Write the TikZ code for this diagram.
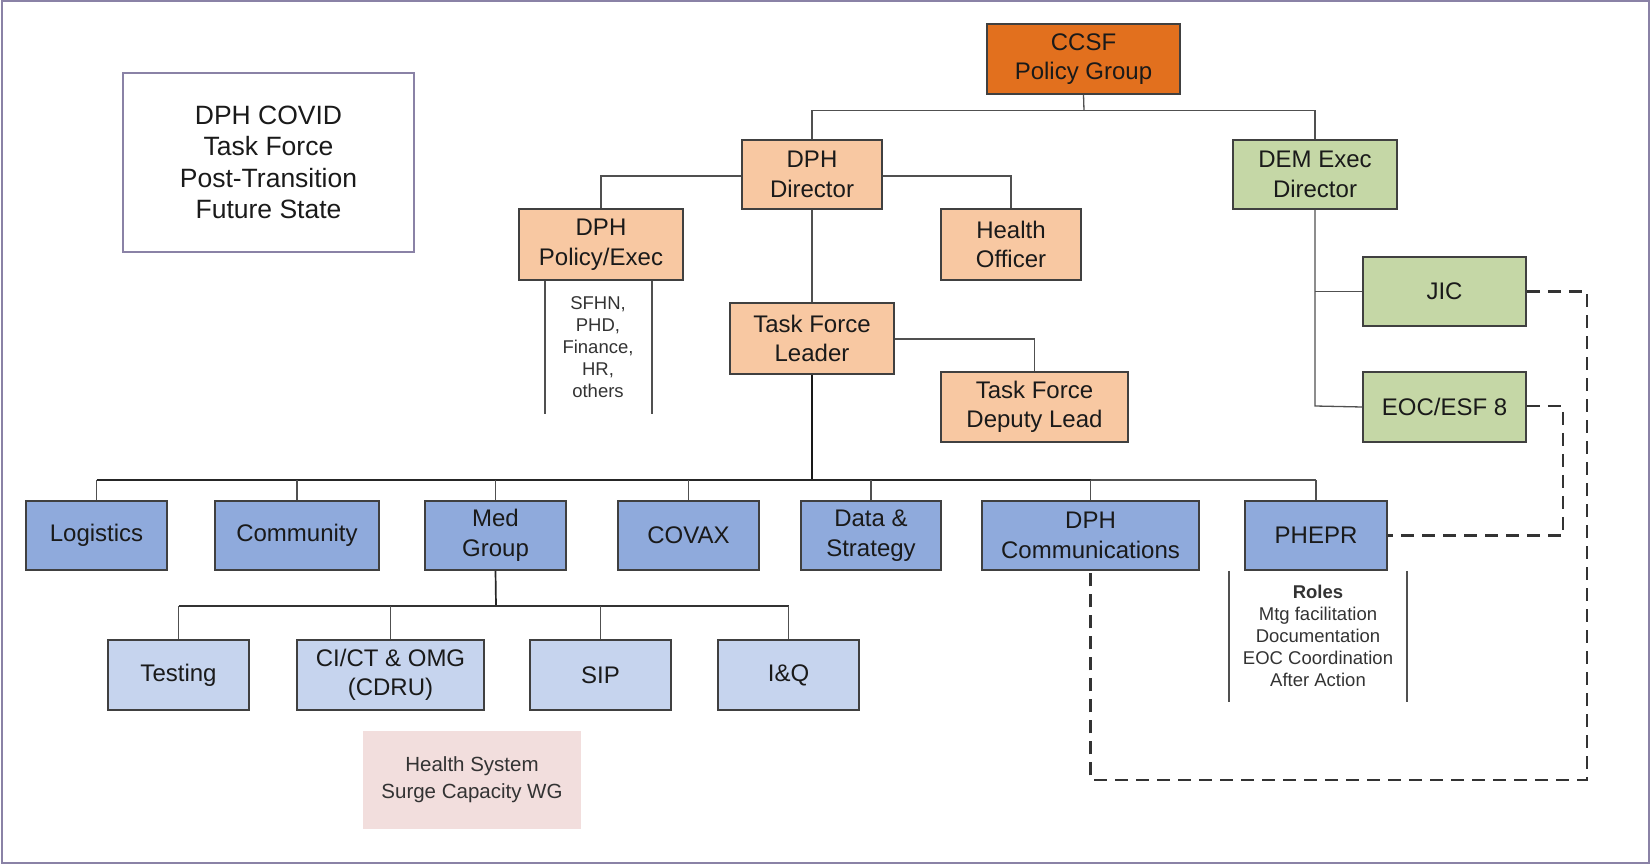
\documentclass[tikz,border=0pt]{standalone}
\usepackage{fontspec}
\setmainfont{Liberation Sans}
\definecolor{frame}{HTML}{8A82A6}
\definecolor{ccsf}{HTML}{E2701E}
\definecolor{peach}{HTML}{F8C8A2}
\definecolor{sage}{HTML}{C5D7A6}
\definecolor{midblue}{HTML}{8FAADC}
\definecolor{lightblue}{HTML}{C6D4EE}
\definecolor{pinkwg}{HTML}{F2DEDD}
\definecolor{edge}{HTML}{404040}
\definecolor{txt}{HTML}{1A1A1A}
\definecolor{conn}{HTML}{505050}
\begin{document}
\begin{tikzpicture}[x=1pt,y=-1pt,
  box/.style={draw=edge, line width=1.5pt, inner sep=0pt, align=center, text=txt,
    font=\fontsize{24}{29.5}\selectfont},
  small/.style={inner sep=0pt, align=center, text=black!80, font=\fontsize{18.5}{22}\selectfont},
  wire/.style={draw=conn, line width=1.3pt},
  thickwire/.style={draw=black!90, line width=2.2pt},
  dashwire/.style={draw=black!80, line width=2.4pt, dash pattern=on 13pt off 8pt}
]
\useasboundingbox (0,0) rectangle (1650,864);
\draw[frame, line width=2pt] (1.5,1.5) rectangle (1648.5,862.5);

% title
\node[draw=frame, line width=2pt, minimum width=291pt, minimum height=179pt, inner sep=0pt, align=center,
  font=\fontsize{26.5}{31.5}\selectfont, text=txt] (title) at (268.5,162.5)
  {DPH COVID\\Task Force\\Post-Transition\\Future State};

% top levels
\node[box, fill=ccsf, minimum width=193pt, minimum height=70pt] (ccsf) at (1083.5,59) {CCSF\\Policy Group};
\node[box, fill=peach, minimum width=140pt, minimum height=69pt] (dphdir) at (812,174.5) {DPH\\Director};
\node[box, fill=sage, minimum width=164pt, minimum height=69pt] (dem) at (1315,174.5) {DEM Exec\\Director};
\node[box, fill=peach, minimum width=164pt, minimum height=71pt] (policy) at (601,244.5) {DPH\\Policy/Exec};
\node[box, fill=peach, minimum width=140pt, minimum height=71pt] (healthoff) at (1011,244.5) {Health\\Officer};
\node[box, fill=peach, minimum width=164pt, minimum height=71pt] (tfl) at (812,338.5) {Task Force\\Leader};
\node[box, fill=peach, minimum width=187pt, minimum height=70pt] (deputy) at (1034.5,407) {Task Force\\Deputy Lead};
\node[box, fill=sage, minimum width=163pt, minimum height=69pt] (jic) at (1444.5,291.5) {JIC};
\node[box, fill=sage, minimum width=163pt, minimum height=70pt] (eoc) at (1444.5,407) {EOC/ESF 8};

% row 1
\node[box, fill=midblue, minimum width=141pt, minimum height=69pt] (logistics) at (96.5,535.5) {Logistics};
\node[box, fill=midblue, minimum width=164pt, minimum height=69pt] (community) at (297,535.5) {Community};
\node[box, fill=midblue, minimum width=141pt, minimum height=69pt] (med) at (495.5,535.5) {Med\\Group};
\node[box, fill=midblue, minimum width=141pt, minimum height=69pt] (covax) at (688.5,535.5) {COVAX};
\node[box, fill=midblue, minimum width=140pt, minimum height=69pt] (data) at (871,535.5) {Data \&\\Strategy};
\node[box, fill=midblue, minimum width=217pt, minimum height=69pt] (comms) at (1090.5,535.5) {DPH\\Communications};
\node[box, fill=midblue, minimum width=142pt, minimum height=69pt] (phepr) at (1316,535.5) {PHEPR};

% row 2
\node[box, fill=lightblue, minimum width=141pt, minimum height=70pt] (testing) at (178.5,675) {Testing};
\node[box, fill=lightblue, minimum width=187pt, minimum height=70pt] (cict) at (390.5,675) {CI/CT \& OMG\\(CDRU)};
\node[box, fill=lightblue, minimum width=141pt, minimum height=70pt] (sip) at (600.5,675) {SIP};
\node[box, fill=lightblue, minimum width=141pt, minimum height=70pt] (iq) at (788.5,675) {I\&Q};

% surge WG
\node[fill=pinkwg, minimum width=218pt, minimum height=98pt, inner sep=0pt, align=center, text=black!80,
  font=\fontsize{20.5}{27}\selectfont] (surge) at (472,780) {Health System\\Surge Capacity WG};

% side lists
\node[small] (sfhn) at (598,347) {SFHN,\\PHD,\\Finance,\\HR,\\others};
\node[small] (roles) at (1318,636) {\textbf{Roles}\\Mtg facilitation\\Documentation\\EOC Coordination\\After Action};
\coordinate (sfl) at (545,414);
\coordinate (sfr) at (652,414);
\coordinate (rol) at (1229,702);
\coordinate (ror) at (1407,702);
\draw[wire, line width=1.1pt] (sfl |- policy.south) -- (sfl);
\draw[wire, line width=1.1pt] (sfr |- policy.south) -- (sfr);
\draw[wire, line width=1.1pt] (rol |- phepr.south) -- (rol);
\draw[wire, line width=1.1pt] (ror |- phepr.south) -- (ror);

% connectors top
\coordinate (topbus) at (1084,110.5);
\draw[wire] (ccsf.south) -- (topbus);
\draw[wire] (dphdir.north) |- (topbus) -| (dem.north);
\draw[wire] (dphdir.east |- 0,176) -| (healthoff.north);
\draw[wire] (dphdir.west |- 0,176) -| (policy.north);
\draw[wire] (dphdir.south) -- (tfl.north);
\draw[wire] (tfl.east |- 0,339) -| (deputy.north);
\coordinate (demtail) at (1315,406);
\draw[wire] (dem.south) -- (demtail) -- (eoc.west);
\draw[wire] (dem.south |- jic.west) -- (jic.west);

% main bus
\coordinate (bus) at (812,480);
\draw[thickwire] (tfl.south) -- (bus);
\draw[draw=black!85, line width=1.7pt] (logistics.north |- bus) -- (comms.north |- bus);
\draw[wire] (comms.north |- bus) -- (phepr.north |- bus);
\foreach \n in {logistics,community,med,covax,data,comms,phepr}
  \draw[wire] (\n.north) -- (\n.north |- bus);

% med bus
\coordinate (medbus) at (496,606);
\draw[draw=black!85, line width=1.7pt] (med.south) -- (medbus);
\draw[draw=black!80, line width=1.5pt] (testing.north |- medbus) -- (iq.north |- medbus);
\foreach \n in {testing,cict,sip,iq}
  \draw[wire] (\n.north) -- (\n.north |- medbus);

% dashed links
\coordinate (j1) at (1587,291.5);
\coordinate (j2) at (1587,780);
\draw[dashwire] (jic.east) -- (j1) -- (j2) -| (comms.south);
\coordinate (e1) at (1563,406);
\draw[dashwire] (eoc.east |- e1) -- (e1) |- (phepr.east);
\end{tikzpicture}
\end{document}
